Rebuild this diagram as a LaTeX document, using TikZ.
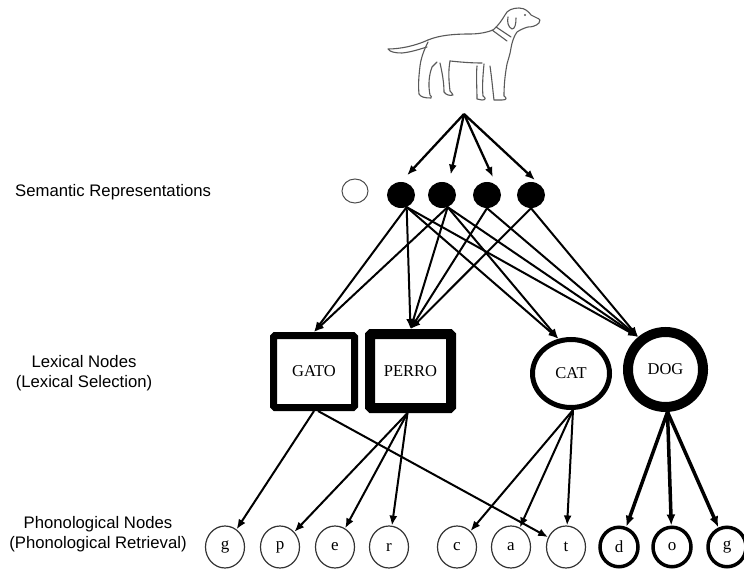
\documentclass[tikz,border=0pt]{standalone}
\usepackage{fontspec}
\setmainfont{Liberation Serif}
\newfontfamily\labfont{Liberation Sans}
\usetikzlibrary{arrows.meta,shapes.geometric}
\begin{document}
\begin{tikzpicture}[x=1pt,y=-1pt,
  lab/.style={font=\labfont\fontsize{16.7}{20}\selectfont, inner sep=0pt, anchor=base},
  sem/.style={ellipse, fill=black, minimum width=28pt, minimum height=26pt, inner sep=0pt},
  semw/.style={ellipse, draw=black!70, line width=1pt, minimum width=26pt, minimum height=24pt, inner sep=0pt},
  lexbox/.style={rectangle, draw, rounded corners=1.5pt, inner sep=0pt, font=\fontsize{16.5}{20}\selectfont},
  lexcirc/.style={ellipse, draw, inner sep=0pt, font=\fontsize{16.5}{20}\selectfont},
  phon/.style={ellipse, draw=black!80, line width=1.2pt, minimum width=39pt, minimum height=42pt, inner sep=0pt, font=\fontsize{17}{20}\selectfont},
  phonb/.style={phon, draw=black, line width=3.5pt, minimum width=38pt, minimum height=39.5pt},
  arr/.style={-{Latex[length=10pt,width=8pt]}, line width=2pt},
  arrb/.style={-{Latex[length=11pt,width=9pt]}, line width=3.5pt},
  dogline/.style={draw=black!65, line width=1.1pt, line cap=round, line join=round}
]
\fill[white] (0,0) rectangle (744,569);
\useasboundingbox (0,0) rectangle (744,569);

% ---- dog drawing ----
\path[dogline]
  (428,40) .. controls (415,46) and (400,49) .. (388,49)
  .. controls (390,52) and (395,53) .. (402,53)
  .. controls (412,52) and (420,49) .. (427,47);
\path[dogline]
  (428,40) .. controls (440,35) and (455,34) .. (470,34)
  .. controls (480,34) and (488,32) .. (493,30)
  .. controls (498,26) and (502,20) .. (505,15)
  .. controls (507,10) and (513,8) .. (519,8)
  .. controls (525,8) and (529,12) .. (531,15)
  -- (537,18)
  .. controls (540,19) and (541,21) .. (539,23)
  .. controls (536,26) and (532,27) .. (528,27)
  .. controls (524,28) and (520,30) .. (517,32)
  .. controls (514,36) and (512,42) .. (511,48)
  .. controls (510,55) and (508,60) .. (507,64)
  .. controls (505,75) and (504,85) .. (504,96)
  .. controls (507,98) and (507,100) .. (502,100)
  -- (494,100)
  .. controls (493,92) and (492,80) .. (490,66);
\path[dogline] (484,64) .. controls (483,75) and (482,86) .. (483,96)
  .. controls (486,98) and (486,100) .. (482,100) -- (477,99)
  .. controls (477,88) and (476,76) .. (477,66);
\path[dogline] (450,61) .. controls (460,62) and (470,63) .. (482,63);
\path[dogline]
  (428,42) .. controls (424,50) and (421,58) .. (420,66)
  .. controls (419,75) and (418,84) .. (419,94)
  .. controls (421,97) and (424,98) .. (431,98)
  .. controls (432,97) and (431,96) .. (430,95)
  .. controls (428,85) and (429,75) .. (432,67)
  -- (437,62);
\path[dogline]
  (440,63) .. controls (442,72) and (444,82) .. (444,92)
  .. controls (446,95) and (450,96) .. (453,95)
  .. controls (452,93) and (451,92) .. (450,91)
  .. controls (449,82) and (448,72) .. (450,61);
\path[dogline] (492,30) -- (507,41) (496,27) -- (511,37);
\path[dogline] (508,17) .. controls (507,22) and (508,27) .. (512,29)
  .. controls (515,29) and (516,24) .. (516,18);
\fill[black!65] (525,15) circle (1.1pt);
\coordinate (src) at (464,114);

% ---- labels ----
\node[lab, anchor=base west] (labsem) at (15,197) {Semantic Representations};
\node[lab] (lablex1) at (84,367) {Lexical Nodes};
\node[lab] (lablex2) at (84,387) {(Lexical Selection)};
\node[lab] (labpho1) at (98,528) {Phonological Nodes};
\node[lab] (labpho2) at (98,548) {(Phonological Retrieval)};

% ---- semantic nodes ----
\node[semw] (W) at (355,191) {};
\node[sem] (S1) at (401,195) {};
\node[sem] (S2) at (442,195) {};
\node[sem] (S3) at (487,195) {};
\node[sem] (S4) at (531,195) {};

% ---- lexical nodes ----
\node[lexbox, line width=7pt, minimum width=81pt, minimum height=72pt] (GATO) at (314,371.5) {GATO};
\node[lexbox, line width=10pt, minimum width=81pt, minimum height=74pt] (PERRO) at (410.5,371) {PERRO};
\node[lexcirc, line width=5pt, minimum width=77pt, minimum height=68pt] (CAT) at (571,373.5) {CAT};
\node[lexcirc, line width=10pt, minimum width=75pt, minimum height=75pt] (DOG) at (665.5,369.5) {DOG};

% ---- phonological nodes ----
\node[phon] (p1) at (225,547) {g};
\node[phon] (p2) at (280,547) {p};
\node[phon] (p3) at (335,547) {e};
\node[phon] (p4) at (389,547) {r};
\node[phon] (p5) at (457,547) {c};
\node[phon] (p6) at (511,547) {a};
\node[phon] (p7) at (566,547) {t};
\node[phonb] (p8) at (619,547) {d};
\node[phonb] (p9) at (672,547) {o};
\node[phonb] (p10) at (727,547) {g};

% ---- picture to semantic ----
\draw[arr, line width=2.3pt, shorten >=9pt] (src) -- (S1.north);
\draw[arr, line width=2.3pt, shorten >=9pt] (src) -- (S2.60);
\draw[arr, line width=2.3pt, shorten >=9pt] (src) -- (S3.45);
\draw[arr, line width=2.3pt, shorten >=9pt] (src) -- (S4.40);

% ---- semantic to lexical ----
\foreach \s/\a in {S1/-65,S2/-65} {
  \draw[arr] (\s.\a) -- (GATO.north);
  \draw[arr] (\s.\a) -- (PERRO.north);
  \draw[arr] (\s.\a) -- (CAT.110);
  \draw[arr] (\s.\a) -- (DOG.130);
}
\foreach \s in {S3,S4} {
  \draw[arr] (\s.south) -- (PERRO.north);
  \draw[arr] (\s.south) -- (DOG.130);
}

% ---- lexical to phonological ----
\draw[arr] (GATO.south) -- (p1);
\draw[arr] ([xshift=4pt]GATO.south) -- (p7);
\draw[arr] ([xshift=-3pt]PERRO.south) -- (p2);
\draw[arr] ([xshift=-3pt]PERRO.south) -- (p3);
\draw[arr] ([xshift=-3pt]PERRO.south) -- (p4);
\draw[arr] ([xshift=2pt]CAT.south) -- (p5);
\draw[arr] ([xshift=2pt]CAT.south) -- (p6);
\draw[arr] ([xshift=2pt]CAT.south) -- (p7);
\draw[arrb] ([xshift=2pt]DOG.south) -- (p8);
\draw[arrb] ([xshift=2pt]DOG.south) -- (p9);
\draw[arrb] ([xshift=2pt]DOG.south) -- (p10);
\end{tikzpicture}
\end{document}
